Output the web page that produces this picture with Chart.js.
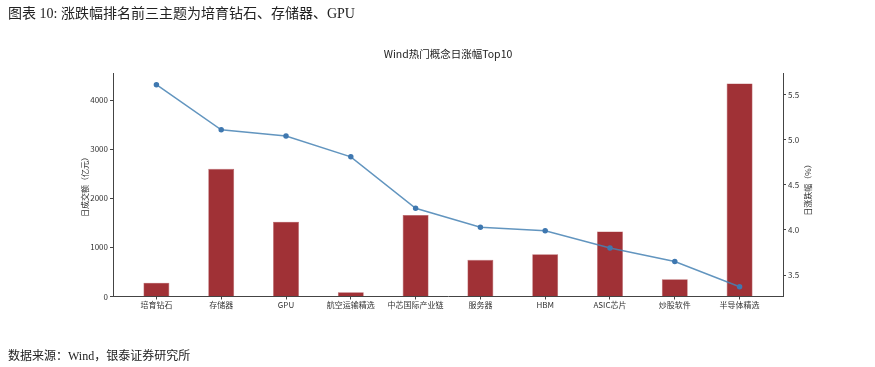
<!DOCTYPE html>
<html>
<head>
<meta charset="utf-8">
<script src="https://cdn.jsdelivr.net/npm/chart.js@4.4.1/dist/chart.umd.min.js"></script>
<style>
    html, body { margin: 0; padding: 0; background: #fff; }
    #wrap { position: relative; width: 875px; height: 367px; }
    #chart { position: absolute; left: 0; top: 0; }
    .cap { position: absolute; left: 8px; font-family: "Liberation Serif", "Noto Sans CJK SC", serif; color: #222; white-space: nowrap; }
</style>
</head>
<body>
<div id="wrap">
    <canvas id="chart" width="875" height="367"></canvas>
    <div class="cap" style="top: 2px; font-size: 14px;">图表 10: 涨跌幅排名前三主题为培育钻石、存储器、GPU</div>
    <div class="cap" style="top: 346px; font-size: 12px;">数据来源：Wind，银泰证券研究所</div>
</div>
<script>
const categories = ["培育钻石", "存储器", "GPU", "航空运输精选", "中芯国际产业链", "服务器", "HBM", "ASIC芯片", "炒股软件", "半导体精选"];
const turnover = [282, 2600, 1523, 86, 1660, 746, 863, 1325, 352, 4340];
const changePct = [5.61, 5.11, 5.04, 4.81, 4.24, 4.03, 3.99, 3.80, 3.65, 3.37];
const leftTicks = [0, 1000, 2000, 3000, 4000];
const rightTicks = [3.5, 4.0, 4.5, 5.0, 5.5];

const tickFont = { family: "'Noto Sans CJK SC', sans-serif", size: 8 };
const axisColor = "#444";

const rightTitle = {
    id: "rightTitle",
    afterDraw(chart) {
        const ctx = chart.ctx;
        ctx.save();
        ctx.translate(808, 188);
        ctx.rotate(-Math.PI / 2);
        ctx.font = "8px 'Noto Sans CJK SC', sans-serif";
        ctx.fillStyle = "#333";
        ctx.textAlign = "center";
        ctx.textBaseline = "middle";
        ctx.fillText("日涨跌幅（%）", 0, 0);
        ctx.restore();
    }
};

function initChart() {
    const ctx = document.getElementById("chart");
    new Chart(ctx, {
        data: {
            datasets: [
                {
                    type: "line",
                    data: changePct.map((v, i) => ({ x: i, y: v })),
                    yAxisID: "y1",
                    borderColor: "rgba(70, 130, 180, 0.85)",
                    borderWidth: 1.5,
                    pointRadius: 2,
                    pointBackgroundColor: "#3f78b0",
                    pointBorderColor: "#3f78b0",
                    tension: 0,
                    order: 0,
                },
                {
                    type: "bar",
                    data: turnover.map((v, i) => ({ x: i, y: v })),
                    yAxisID: "y",
                    backgroundColor: "#a03136",
                    borderColor: "#b45a5e",
                    borderWidth: 0.6,
                    barPercentage: 0.4,
                    categoryPercentage: 1,
                    order: 1,
                },
            ],
        },
        plugins: [rightTitle],
        options: {
            responsive: false,
            animation: false,
            layout: { padding: { left: 21, right: 0, top: 0, bottom: 0 } },
            plugins: {
                legend: { display: false },
                tooltip: { enabled: false },
                title: {
                    display: true,
                    text: "Wind热门概念日涨幅Top10",
                    color: "#222",
                    font: { family: "'Noto Sans CJK SC', sans-serif", size: 10.5, weight: "normal", lineHeight: 1.2 },
                    padding: { top: 48, bottom: 13 },
                },
            },
            scales: {
                x: {
                    type: "linear",
                    offset: false,
                    min: -0.67,
                    max: 9.67,
                    afterFit(scale) { scale.height = 70.5; },
                    afterBuildTicks(scale) { scale.ticks = categories.map((_, i) => ({ value: i })); },
                    ticks: {
                        callback: (v) => categories[v] ?? "",
                        font: tickFont,
                        color: "#333",
                        maxRotation: 0,
                        autoSkip: false,
                        padding: 1,
                    },
                    grid: { drawOnChartArea: false, tickLength: 3, color: axisColor, offset: false },
                    border: { display: true, color: axisColor, width: 1 },
                },
                y: {
                    position: "left",
                    min: 0,
                    max: 4540,
                    afterFit(scale) { scale.width = 92; },
                    afterBuildTicks(scale) { scale.ticks = leftTicks.map((v) => ({ value: v })); },
                    ticks: { font: tickFont, color: "#333", padding: 2, callback: (v) => String(v) },
                    grid: { drawOnChartArea: false, tickLength: 3, color: axisColor },
                    border: { display: true, color: axisColor, width: 1 },
                    title: {
                        display: true,
                        text: "日成交额（亿元）",
                        color: "#333",
                        font: { family: "'Noto Sans CJK SC', sans-serif", size: 8 },
                        padding: { top: 59, bottom: 0 },
                    },
                },
                y1: {
                    position: "right",
                    min: 3.262,
                    max: 5.733,
                    afterFit(scale) { scale.width = 92; },
                    afterBuildTicks(scale) { scale.ticks = rightTicks.map((v) => ({ value: v })); },
                    ticks: { font: tickFont, color: "#333", padding: 2, callback: (v) => v.toFixed(1) },
                    grid: { drawOnChartArea: false, tickLength: 3, color: axisColor },
                    border: { display: true, color: axisColor, width: 1 },
                },
            },
        },
    });
}

document.addEventListener("DOMContentLoaded", () => {
    initChart();
});
</script>
</body>
</html>
